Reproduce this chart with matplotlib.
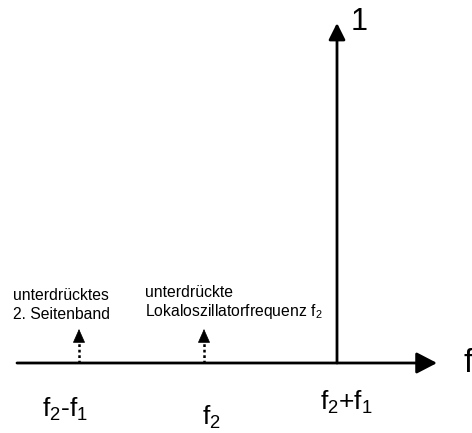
import matplotlib
matplotlib.use("Agg")
import matplotlib.pyplot as plt

# Data
freq_labels = ["f$_2$-f$_1$", "f$_2$", "f$_2$+f$_1$"]
freq_pos = [79, 204, 337]          # positions along frequency axis
amplitudes = [0.1, 0.1, 1.0]       # relative amplitudes (1 = carrier/sideband)
suppressed = [True, True, False]
notes = [["unterdrücktes", "2. Seitenband"],
         ["unterdrückte", "Lokaloszillatorfrequenz f$_2$"]]

plt.rcParams['font.family'] = ['Liberation Sans', 'DejaVu Sans']
plt.rcParams['mathtext.fontset'] = 'custom'
plt.rcParams['mathtext.rm'] = 'Liberation Sans'
plt.rcParams['mathtext.it'] = 'Liberation Sans'

W, H = 472, 433
fig = plt.figure(figsize=(W / 100, H / 100), dpi=100)
ax = fig.add_axes([0, 0, 1, 1])
base_px, unit_px = 363, 340
ax.set_xlim(0, W)
ax.set_ylim(-(H - base_px) / unit_px, base_px / unit_px)
ax.axis("off")


def py(p):
    """pixel row -> amplitude units"""
    return (base_px - p) / unit_px


# frequency axis
ax.annotate("", xy=(437, 0), xytext=(17, 0),
            arrowprops=dict(arrowstyle="-|>,head_length=12.5,head_width=6.5",
                            mutation_scale=1, lw=2.0, color="black",
                            shrinkA=0, shrinkB=0))
ax.text(463, py(372), "f", fontsize=24, va="baseline", ha="left")

for x, a, sup in zip(freq_pos, amplitudes, suppressed):
    if sup:
        head_base = a - 12 / unit_px
        ax.plot([x, x], [0, head_base], color="black", lw=1.8, ls=(0, (1.1, 1.1)))
        ax.annotate("", xy=(x, a), xytext=(x, head_base),
                    arrowprops=dict(arrowstyle="-|>,head_length=9,head_width=4",
                                    mutation_scale=1, lw=0.5, color="black",
                                    shrinkA=0, shrinkB=0))
    else:
        ax.annotate("", xy=(x, a), xytext=(x, 0),
                    arrowprops=dict(arrowstyle="-|>,head_length=10,head_width=5",
                                    mutation_scale=1, lw=2.0, color="black",
                                    shrinkA=0, shrinkB=0))
        ax.text(x + 14, py(30), "1", fontsize=22, ha="left", va="baseline")

# bottom tick labels
ax.text(65, py(417), freq_labels[0], fontsize=19, ha="center", va="baseline")
ax.text(211, py(425), freq_labels[1], fontsize=19, ha="center", va="baseline")
ax.text(346, py(410), freq_labels[2], fontsize=19, ha="center", va="baseline")

# annotations
for (l1, l2), x0, (b1, b2) in zip(notes, [13, 145], [(300, 319), (297, 316)]):
    ax.text(x0, py(b1), l1, fontsize=11.3, ha="left", va="baseline")
    ax.text(x0, py(b2), l2, fontsize=11.3, ha="left", va="baseline")

fig.savefig("out.png", dpi=100)
